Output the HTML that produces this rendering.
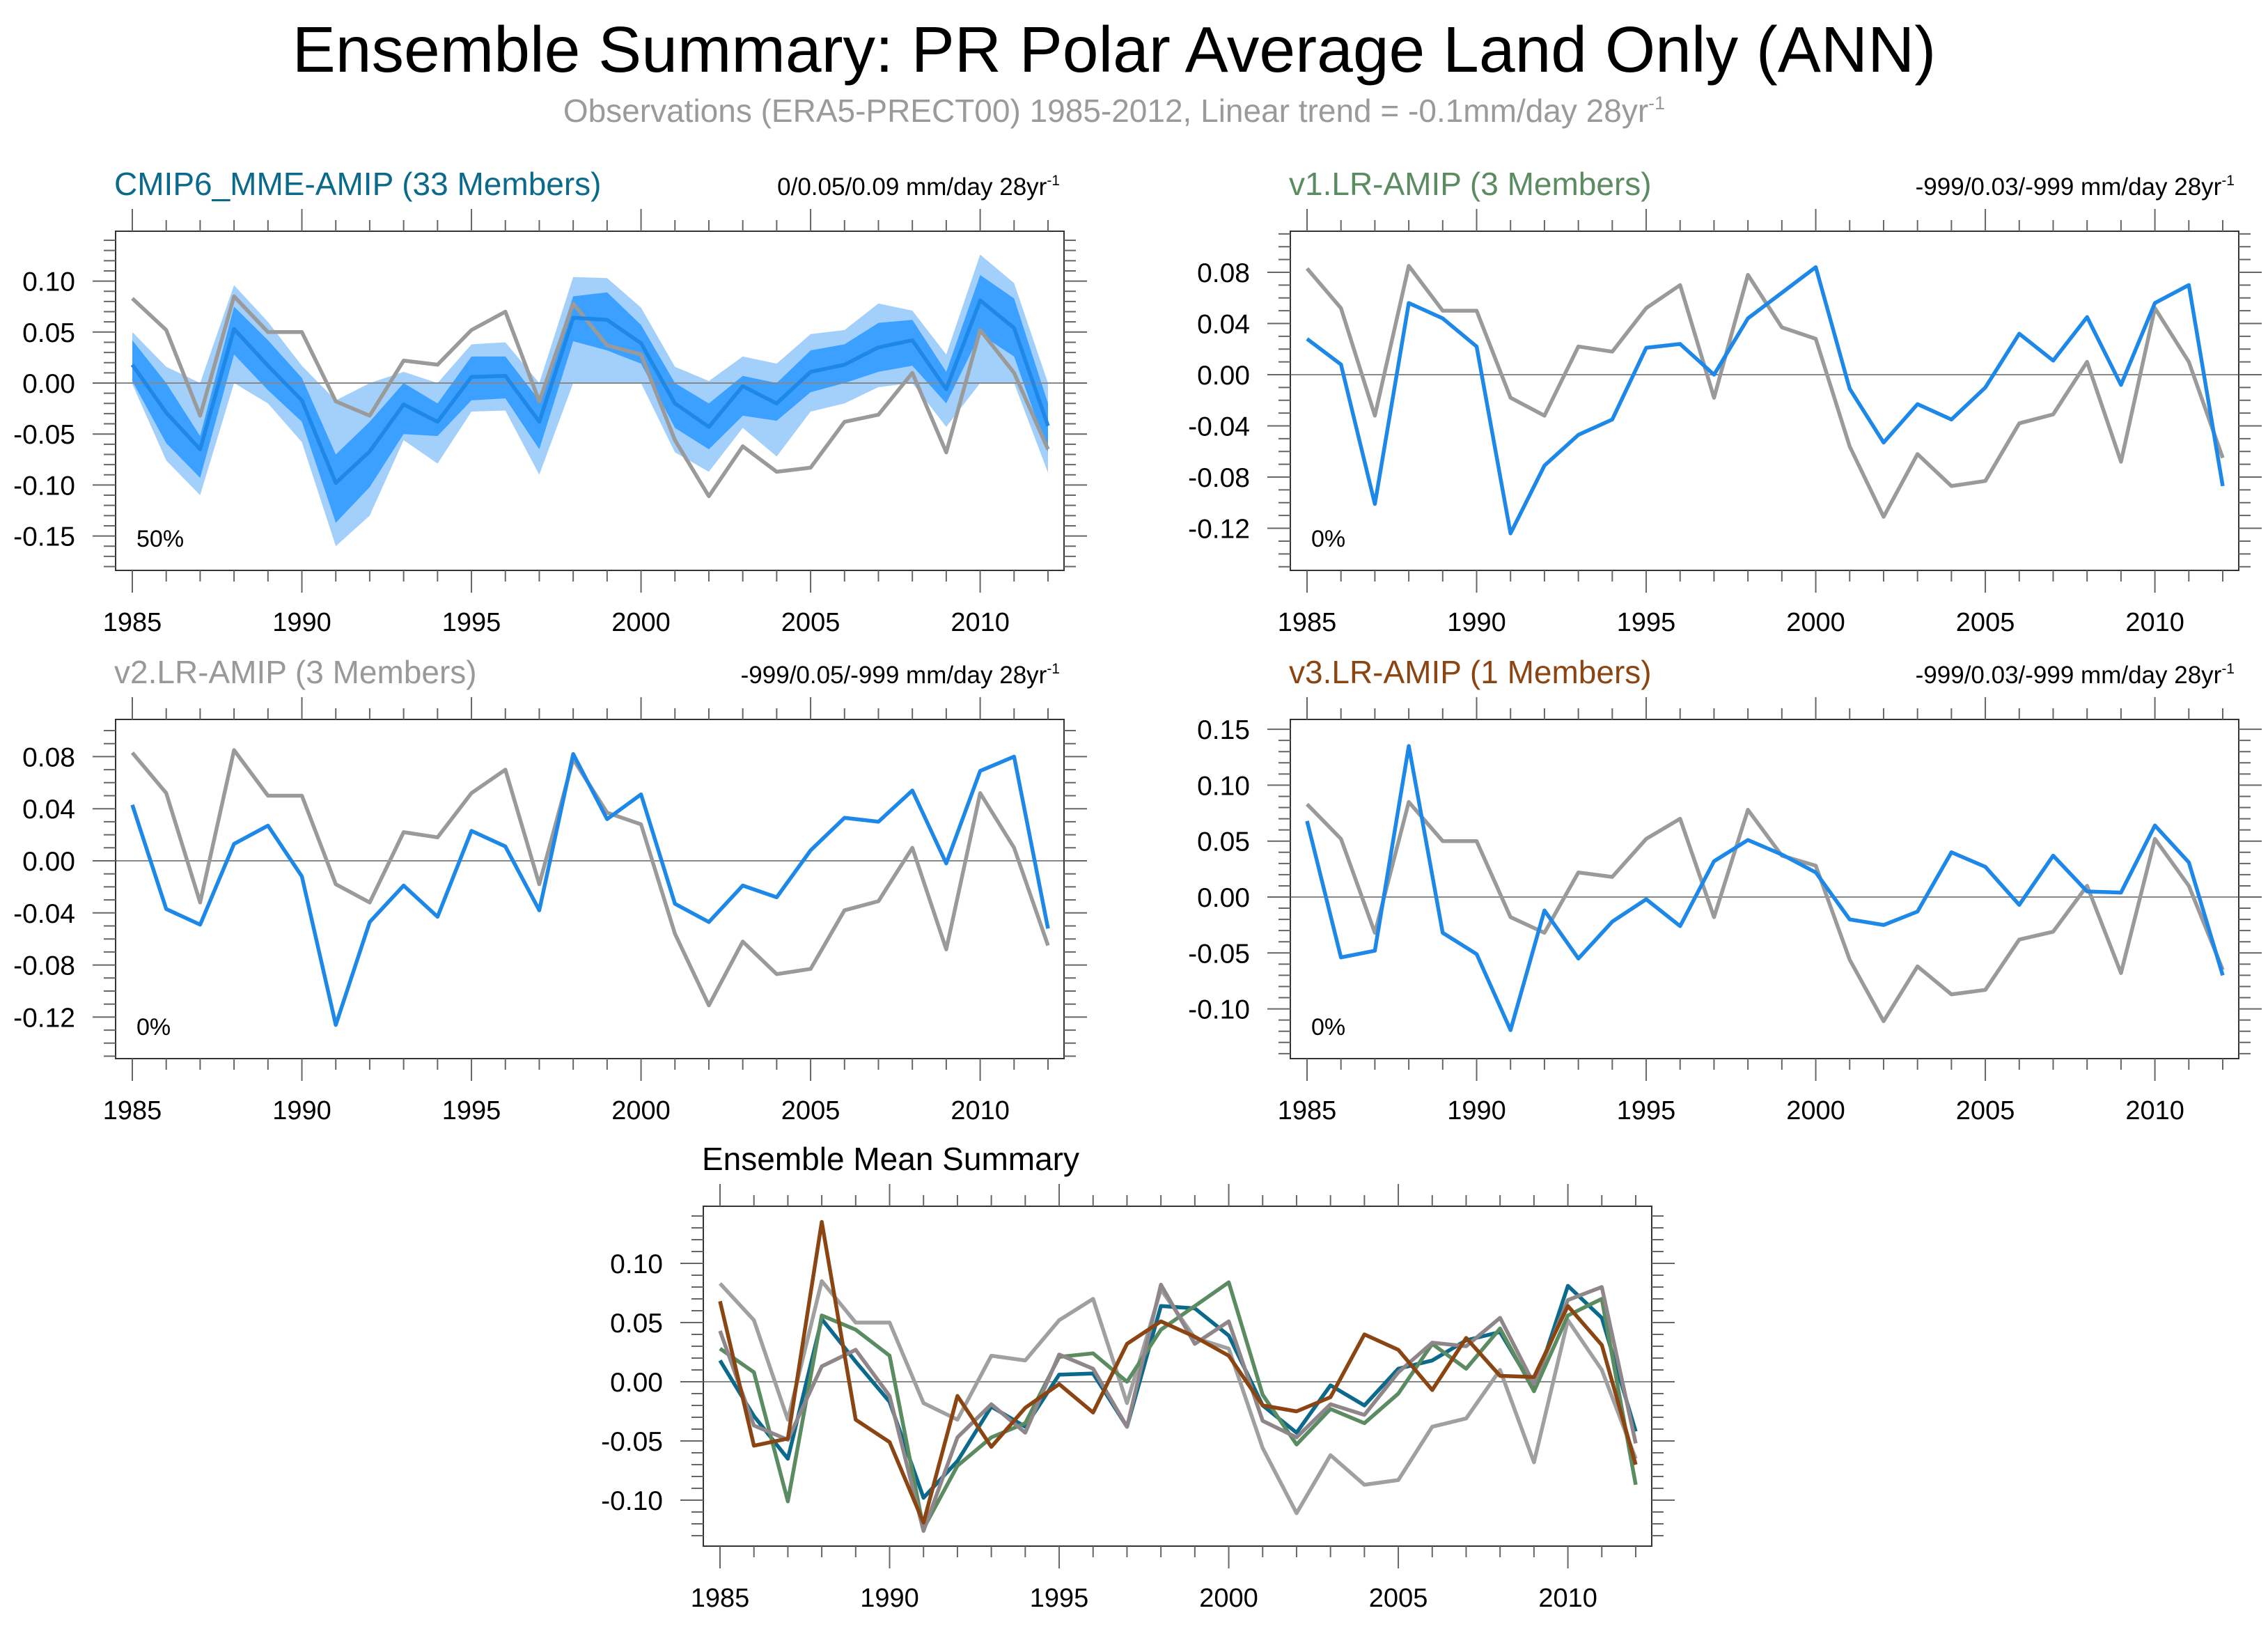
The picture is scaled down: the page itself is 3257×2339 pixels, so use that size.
<!DOCTYPE html>
<html><head><meta charset="utf-8"><style>
html,body{margin:0;padding:0;background:#fff;}
svg{display:block;font-family:"Liberation Sans",sans-serif;}
</style></head><body>
<svg id="fig" xmlns="http://www.w3.org/2000/svg" width="3257" height="2339" viewBox="0 0 3257 2339">
<rect width="3257" height="2339" fill="#fff"/>
<text x="1600" y="103" font-size="93" text-anchor="middle" fill="#000">Ensemble Summary: PR Polar Average Land Only (ANN)</text>
<text x="1600" y="175" font-size="46" text-anchor="middle" fill="#9a9a9a">Observations (ERA5-PRECT00) 1985-2012, Linear trend = -0.1mm/day 28yr<tspan font-size="27" dy="-18">-1</tspan></text>
<g id="panels"></g>
</svg>
<script>
const years = [1985,1986,1987,1988,1989,1990,1991,1992,1993,1994,1995,1996,1997,1998,1999,2000,2001,2002,2003,2004,2005,2006,2007,2008,2009,2010,2011,2012];
const obsValues = [0.083,0.052,-0.032,0.085,0.050,0.050,-0.018,-0.032,0.022,0.018,0.052,0.070,-0.018,0.078,0.037,0.028,-0.056,-0.111,-0.062,-0.087,-0.083,-0.038,-0.031,0.010,-0.068,0.052,0.010,-0.065];
const cmip6Mean = [0.018,-0.029,-0.065,0.053,0.017,-0.017,-0.098,-0.067,-0.021,-0.038,0.006,0.007,-0.038,0.064,0.062,0.039,-0.020,-0.043,-0.003,-0.020,0.011,0.018,0.035,0.042,-0.006,0.081,0.054,-0.042];
const cmip6DarkUpper = [0.042,0.000,-0.052,0.075,0.042,0.005,-0.070,-0.038,0.000,-0.020,0.026,0.026,-0.017,0.085,0.089,0.057,0.000,-0.020,0.007,0.000,0.032,0.038,0.059,0.062,0.011,0.106,0.083,-0.020];
const cmip6DarkLower = [0.002,-0.059,-0.093,0.028,-0.007,-0.038,-0.137,-0.102,-0.050,-0.052,-0.017,-0.015,-0.065,0.041,0.032,0.019,-0.044,-0.065,-0.032,-0.037,-0.009,0.000,0.011,0.017,-0.020,0.048,0.026,-0.068];
const cmip6LightUpper = [0.050,0.016,0.000,0.096,0.060,0.017,-0.017,0.000,0.011,0.000,0.038,0.040,0.000,0.104,0.103,0.074,0.016,0.002,0.026,0.019,0.048,0.052,0.078,0.071,0.028,0.126,0.098,0.000];
const cmip6LightLower = [-0.001,-0.076,-0.110,0.000,-0.020,-0.058,-0.160,-0.130,-0.056,-0.079,-0.028,-0.027,-0.090,0.000,0.000,0.000,-0.068,-0.087,-0.044,-0.072,-0.028,-0.020,-0.004,0.000,-0.043,0.000,0.000,-0.088];
const v1Values = [0.028,0.008,-0.101,0.056,0.044,0.022,-0.124,-0.071,-0.047,-0.035,0.021,0.024,0.000,0.044,0.064,0.084,-0.011,-0.053,-0.023,-0.035,-0.010,0.032,0.011,0.045,-0.008,0.056,0.070,-0.087];
const v2Values = [0.043,-0.037,-0.049,0.013,0.027,-0.012,-0.126,-0.047,-0.019,-0.043,0.023,0.011,-0.038,0.082,0.032,0.051,-0.033,-0.047,-0.019,-0.028,0.008,0.033,0.030,0.054,-0.002,0.069,0.080,-0.052];
const v3Values = [0.068,-0.054,-0.048,0.135,-0.032,-0.051,-0.119,-0.012,-0.055,-0.022,-0.002,-0.026,0.032,0.051,0.038,0.022,-0.020,-0.025,-0.013,0.040,0.027,-0.007,0.037,0.005,0.004,0.064,0.031,-0.070];
const xTickLabels = [1985,1990,1995,2000,2005,2010];
const yTicksA = [0.10,0.05,0.00,-0.05,-0.10,-0.15];
const yTicksB = [0.08,0.04,0.00,-0.04,-0.08,-0.12];
const yTicksC = [0.15,0.10,0.05,0.00,-0.05,-0.10];
const yTicksD = [0.10,0.05,0.00,-0.05,-0.10];

const NS = "http://www.w3.org/2000/svg";
const root = document.getElementById('panels');
function mk(tag, attrs, parent){ const e=document.createElementNS(NS,tag); for(const k in attrs) e.setAttribute(k,attrs[k]); (parent||root).appendChild(e); return e; }

function panel(p){
  const g = mk('g',{});
  
  
  const xs = y => p.x0 + (y-1985)*(p.x1-p.x0)/27;
  const ys = v => p.zeroY - v*p.pxPerUnit;
  const L=p.left,R=p.right,T=p.top,B=p.bottom;
  (p.bands||[]).forEach(b=>{
    let d='';
    years.forEach((yr,i)=>{ d += (i?'L':'M')+xs(yr)+' '+ys(b.upper[i]); });
    for(let i=years.length-1;i>=0;i--) d += 'L'+xs(years[i])+' '+ys(b.lower[i]);
    const path = mk('path',{d:d+'Z',fill:b.color,stroke:'none'},g);
    
    
  });
  const zl = mk('line',{x1:L,x2:R,y1:ys(0),y2:ys(0),stroke:'#888','stroke-width':2},g);
  
  
  p.series.forEach(s=>{
    const pts = years.map((yr,i)=>xs(yr)+','+ys(s.values[i])).join(' ');
    const pl = mk('polyline',{points:pts,fill:'none',stroke:s.color,'stroke-width':s.w||5.5,'stroke-linejoin':'round'},g);
    
    
  });
  const fr = mk('rect',{x:L,y:T,width:R-L,height:B-T,fill:'none',stroke:'#333','stroke-width':2},g);
  
  
  years.forEach(yr=>{
    const major = yr%5===0, len = major?32:16, x=xs(yr);
    mk('line',{x1:x,x2:x,y1:T,y2:T-len,stroke:'#666','stroke-width':2},g);
    mk('line',{x1:x,x2:x,y1:B,y2:B+len,stroke:'#666','stroke-width':2},g);
  });
  xTickLabels.forEach(yr=>{
    const t = mk('text',{x:xs(yr),y:B+87,'font-size':38,'text-anchor':'middle',fill:'#000'},g);
    t.textContent = yr;
    
    
  });
  const lo = Math.ceil((p.zeroY-B)/p.pxPerUnit*100-0.001), hi = Math.floor((p.zeroY-T)/p.pxPerUnit*100+0.001);
  for(let k=lo;k<=hi;k++){
    const v=k/100, y=ys(v);
    const major = p.yTicks.some(t=>Math.abs(t-v)<1e-6), len=major?33:17;
    mk('line',{x1:L,x2:L-len,y1:y,y2:y,stroke:'#666','stroke-width':2},g);
    mk('line',{x1:R,x2:R+len,y1:y,y2:y,stroke:'#666','stroke-width':2},g);
  }
  p.yTicks.forEach(v=>{
    const t = mk('text',{x:L-58,y:ys(v)+14,'font-size':39,'text-anchor':'end',fill:'#000'},g);
    t.textContent = v.toFixed(2);
    
    
  });
  const lt = mk('text',{x:L-2,y:T-52,'font-size':46,fill:p.titleColor},g);
  lt.textContent = p.title;
  
  
  if(p.rtitle){
    const rt = mk('text',{x:R-6,y:T-52,'font-size':35,'text-anchor':'end',fill:'#000'},g);
    rt.innerHTML = p.rtitle+'<tspan font-size="21" dy="-14">-1</tspan>';
    
    
  }
  if(p.pct){
    const pt = mk('text',{x:L+30,y:B-34,'font-size':34,fill:'#000'},g);
    pt.textContent = p.pct;
    
    
  }
}
const blue='#1e88e8', obsGray='#9a9a9a';
panel({name:'cmip6-panel',left:166,right:1528,top:332,bottom:819,x0:190,x1:1505,zeroY:550,pxPerUnit:1464,yTicks:yTicksA,
  title:'CMIP6_MME-AMIP (33 Members)',titleColor:'#0b6a8c',rtitle:'0/0.05/0.09 mm/day 28yr',pct:'50%',
  bands:[{name:'spread-band-outer',upper:cmip6LightUpper,lower:cmip6LightLower,color:'#a3d0fb'},{name:'spread-band-inner',upper:cmip6DarkUpper,lower:cmip6DarkLower,color:'#3ba0ff'}],
  series:[{name:'observations-line',values:obsValues,color:obsGray},{name:'cmip6-mean-line',values:cmip6Mean,color:blue}]});
panel({name:'v1-panel',left:1853,right:3215,top:332,bottom:819,x0:1877,x1:3192,zeroY:538,pxPerUnit:1838,yTicks:yTicksB,
  title:'v1.LR-AMIP (3 Members)',titleColor:'#5b8b61',rtitle:'-999/0.03/-999 mm/day 28yr',pct:'0%',
  series:[{name:'observations-line',values:obsValues,color:obsGray},{name:'v1-line',values:v1Values,color:blue}]});
panel({name:'v2-panel',left:166,right:1528,top:1033,bottom:1520,x0:190,x1:1505,zeroY:1236,pxPerUnit:1870,yTicks:yTicksB,
  title:'v2.LR-AMIP (3 Members)',titleColor:'#999999',rtitle:'-999/0.05/-999 mm/day 28yr',pct:'0%',
  series:[{name:'observations-line',values:obsValues,color:obsGray},{name:'v2-line',values:v2Values,color:blue}]});
panel({name:'v3-panel',left:1853,right:3215,top:1033,bottom:1520,x0:1877,x1:3192,zeroY:1288,pxPerUnit:1606,yTicks:yTicksC,
  title:'v3.LR-AMIP (1 Members)',titleColor:'#8b4513',rtitle:'-999/0.03/-999 mm/day 28yr',pct:'0%',
  series:[{name:'observations-line',values:obsValues,color:obsGray},{name:'v3-line',values:v3Values,color:blue}]});
panel({name:'ensemble-mean-panel',left:1010,right:2372,top:1732,bottom:2220,x0:1034,x1:2349,zeroY:1984,pxPerUnit:1700,yTicks:yTicksD,
  title:'Ensemble Mean Summary',titleColor:'#000',
  series:[{name:'observations-line',values:obsValues,color:'#a0a0a0'},{name:'cmip6-mean-line',values:cmip6Mean,color:'#0b6a8c'},
          {name:'v1-line',values:v1Values,color:'#5b8b61'},{name:'v2-line',values:v2Values,color:'#8e8689'},{name:'v3-line',values:v3Values,color:'#8b4513'}]});
</script>
</body></html>
